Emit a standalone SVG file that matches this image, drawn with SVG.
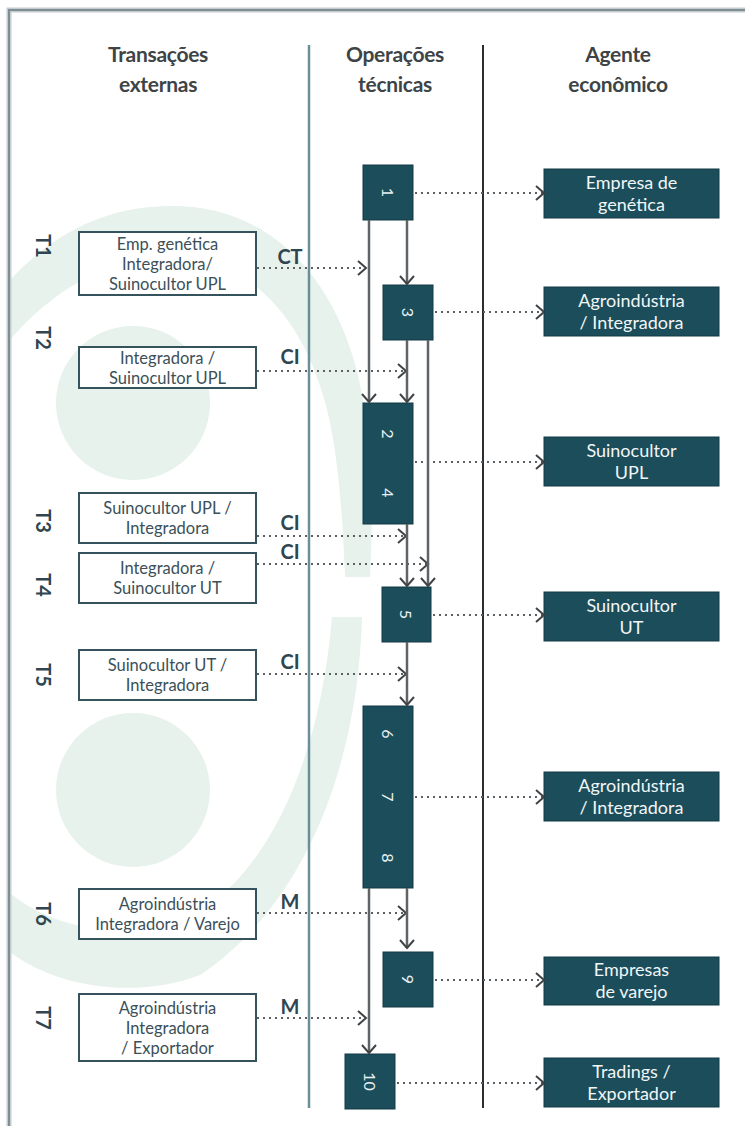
<svg xmlns="http://www.w3.org/2000/svg" width="745" height="1126" viewBox="0 0 745 1126">
<style>
.hdr{font-family:Lato,"Liberation Sans",sans-serif;font-weight:700;font-size:21px;fill:#3e4446;text-anchor:middle;letter-spacing:-0.3px}
.tl{font-family:Lato,"Liberation Sans",sans-serif;font-weight:700;font-size:20px;fill:#2f4650;text-anchor:middle;dominant-baseline:central}
.lbox{fill:#ffffff;stroke:#35535d;stroke-width:2}
.ltx{font-family:Lato,"Liberation Sans",sans-serif;font-size:16.5px;fill:#3c5058;text-anchor:middle;letter-spacing:0px}
.cbox{fill:#1b4d5b;stroke:#123a45;stroke-width:1}
.num{font-family:Lato,"Liberation Sans",sans-serif;font-size:16px;fill:#e8f0f2;text-anchor:middle;dominant-baseline:central}
.rbox{fill:#1b4d5b;stroke:#123a45;stroke-width:1}
.rtx{font-family:Lato,"Liberation Sans",sans-serif;font-size:18px;fill:#f2f6f7;text-anchor:middle}
.code{font-family:Lato,"Liberation Sans",sans-serif;font-weight:700;font-size:20px;fill:#2f4650;text-anchor:middle}
.dot{fill:none;stroke:#5b5f61;stroke-width:2;stroke-dasharray:2 4;marker-end:url(#chev)}
.solid{fill:none;stroke:#5f6365;stroke-width:2.5;marker-end:url(#chevs)}
.wm{fill:#e6f2eb}
</style>
<defs>
<marker id="chev" markerUnits="userSpaceOnUse" markerWidth="12" markerHeight="16" refX="9" refY="8" orient="auto">
<path d="M1,1 L9,8 L1,15" fill="none" stroke="#3f4345" stroke-width="2"/>
</marker>
<marker id="chevs" markerUnits="userSpaceOnUse" markerWidth="12" markerHeight="16" refX="9" refY="8" orient="auto">
<path d="M1,1 L9,8 L1,15" fill="none" stroke="#3f4345" stroke-width="2"/>
</marker>
</defs>
<rect width="745" height="1126" fill="#ffffff"/>
<g id="watermark">
<circle class="wm" cx="133" cy="403" r="77"/>
<circle class="wm" cx="133" cy="790" r="77"/>
<path class="wm" d="M10,280 C60,226 115,206 172,206 C285,206 352,300 366,420 C373,480 372,540 370,577 L345,577 C343,520 338,440 322,392 C296,305 238,256 170,256 C110,256 50,292 10,340 Z"/>
<path class="wm" d="M362,617 C358,765 305,905 200,975 C140,998 60,990 10,952 L10,893 C60,935 140,940 198,913 C270,868 320,760 332,617 Z"/>
</g>
<g id="frame">
<path d="M9,1126 L9,10 L745,10" fill="none" stroke="#c5ccd0" stroke-width="5"/>
<path d="M9,1126 L9,10 L745,10" fill="none" stroke="#7f8d94" stroke-width="2"/>
</g>
<g id="headers">
<text class="hdr" x="158" y="62">Transações</text>
<text class="hdr" x="158" y="92">externas</text>
<text class="hdr" x="395" y="62">Operações</text>
<text class="hdr" x="395" y="92">técnicas</text>
<text class="hdr" x="618" y="62">Agente</text>
<text class="hdr" x="618" y="92">econômico</text>
<line x1="309" y1="45" x2="309" y2="1108" stroke="#6b8f99" stroke-width="2.5"/>
<line x1="483" y1="45" x2="483" y2="1108" stroke="#2a2d30" stroke-width="2"/>
</g>
<g id="T1">
<text class="tl" transform="translate(44,246) rotate(90)">T1</text>
<rect class="lbox" x="79" y="232" width="177" height="63"/>
<text class="ltx" x="167.5" y="250">Emp. genética</text>
<text class="ltx" x="167.5" y="270">Integradora/</text>
<text class="ltx" x="167.5" y="290">Suinocultor  UPL</text>
</g>
<g id="T2">
<text class="tl" transform="translate(44,338) rotate(90)">T2</text>
<rect class="lbox" x="79" y="347" width="177" height="41"/>
<text class="ltx" x="167.5" y="364">Integradora /</text>
<text class="ltx" x="167.5" y="384">Suinocultor UPL</text>
</g>
<g id="T3">
<text class="tl" transform="translate(44,521) rotate(90)">T3</text>
<rect class="lbox" x="79" y="493" width="177" height="50"/>
<text class="ltx" x="167.5" y="514">Suinocultor UPL /</text>
<text class="ltx" x="167.5" y="534">Integradora</text>
</g>
<g id="T4">
<text class="tl" transform="translate(44,585) rotate(90)">T4</text>
<rect class="lbox" x="79" y="553" width="177" height="50"/>
<text class="ltx" x="167.5" y="574">Integradora /</text>
<text class="ltx" x="167.5" y="594">Suinocultor UT</text>
</g>
<g id="T5">
<text class="tl" transform="translate(44,675) rotate(90)">T5</text>
<rect class="lbox" x="79" y="650" width="177" height="50"/>
<text class="ltx" x="167.5" y="671">Suinocultor UT /</text>
<text class="ltx" x="167.5" y="691">Integradora</text>
</g>
<g id="T6">
<text class="tl" transform="translate(44,914) rotate(90)">T6</text>
<rect class="lbox" x="79" y="889" width="177" height="50"/>
<text class="ltx" x="167.5" y="910">Agroindústria</text>
<text class="ltx" x="167.5" y="930">Integradora / Varejo</text>
</g>
<g id="T7">
<text class="tl" transform="translate(44,1018) rotate(90)">T7</text>
<rect class="lbox" x="79" y="994" width="177" height="67"/>
<text class="ltx" x="167.5" y="1014">Agroindústria</text>
<text class="ltx" x="167.5" y="1034">Integradora</text>
<text class="ltx" x="167.5" y="1054">/ Exportador</text>
</g>
<g id="op1">
<rect class="cbox" x="363" y="165" width="50" height="55"/>
<text class="num" transform="translate(388,192.5) rotate(90)">1</text>
</g>
<g id="op3">
<rect class="cbox" x="383" y="285" width="50" height="55"/>
<text class="num" transform="translate(408,312.5) rotate(90)">3</text>
</g>
<g id="op24">
<rect class="cbox" x="363" y="403" width="50" height="121"/>
<text class="num" transform="translate(388,434) rotate(90)">2</text>
<text class="num" transform="translate(388,493) rotate(90)">4</text>
</g>
<g id="op5">
<rect class="cbox" x="382" y="587" width="49" height="55"/>
<text class="num" transform="translate(406.5,614.5) rotate(90)">5</text>
</g>
<g id="op678">
<rect class="cbox" x="363" y="706" width="50" height="182"/>
<text class="num" transform="translate(388,734) rotate(90)">6</text>
<text class="num" transform="translate(388,797) rotate(90)">7</text>
<text class="num" transform="translate(388,858) rotate(90)">8</text>
</g>
<g id="op9">
<rect class="cbox" x="383" y="952" width="50" height="55"/>
<text class="num" transform="translate(408,979.5) rotate(90)">9</text>
</g>
<g id="op10">
<rect class="cbox" x="345" y="1054" width="50" height="55"/>
<text class="num" transform="translate(370,1081.5) rotate(90)">10</text>
</g>
<g id="ag1">
<rect class="rbox" x="544" y="169" width="175" height="49"/>
<text class="rtx" x="631.5" y="189">Empresa de</text>
<text class="rtx" x="631.5" y="211">genética</text>
</g>
<g id="ag2">
<rect class="rbox" x="544" y="287" width="175" height="49"/>
<text class="rtx" x="631.5" y="307">Agroindústria</text>
<text class="rtx" x="631.5" y="329">/ Integradora</text>
</g>
<g id="ag3">
<rect class="rbox" x="544" y="437" width="175" height="49"/>
<text class="rtx" x="631.5" y="457">Suinocultor</text>
<text class="rtx" x="631.5" y="479">UPL</text>
</g>
<g id="ag4">
<rect class="rbox" x="544" y="592" width="175" height="49"/>
<text class="rtx" x="631.5" y="612">Suinocultor</text>
<text class="rtx" x="631.5" y="634">UT</text>
</g>
<g id="ag5">
<rect class="rbox" x="544" y="772" width="175" height="49"/>
<text class="rtx" x="631.5" y="792">Agroindústria</text>
<text class="rtx" x="631.5" y="814">/ Integradora</text>
</g>
<g id="ag6">
<rect class="rbox" x="544" y="957" width="175" height="48"/>
<text class="rtx" x="631.5" y="976">Empresas</text>
<text class="rtx" x="631.5" y="998">de varejo</text>
</g>
<g id="ag7">
<rect class="rbox" x="544" y="1058" width="175" height="49"/>
<text class="rtx" x="631.5" y="1078">Tradings /</text>
<text class="rtx" x="631.5" y="1100">Exportador</text>
</g>
<g id="connectors">
<text class="code" x="290" y="264">CT</text>
<text class="code" x="290" y="364">CI</text>
<text class="code" x="290" y="530">CI</text>
<text class="code" x="290" y="559">CI</text>
<text class="code" x="290" y="669">CI</text>
<text class="code" x="290" y="909">M</text>
<text class="code" x="290" y="1014">M</text>
<path class="dot" d="M257,268 H366"/>
<path class="dot" d="M257,371 H406"/>
<path class="dot" d="M257,536 H406"/>
<path class="dot" d="M257,564 H428"/>
<path class="dot" d="M257,674 H406"/>
<path class="dot" d="M257,913 H406"/>
<path class="dot" d="M257,1018 H366"/>
<path class="dot" d="M415,193 H544"/>
<path class="dot" d="M435,312 H544"/>
<path class="dot" d="M415,462 H544"/>
<path class="dot" d="M433,615 H544"/>
<path class="dot" d="M415,797 H544"/>
<path class="dot" d="M435,980 H544"/>
<path class="dot" d="M397,1083 H544"/>
<path class="solid" d="M369,220 V402"/>
<path class="solid" d="M407,220 V284"/>
<path class="solid" d="M407,340 V402"/>
<path class="solid" d="M428,340 V586"/>
<path class="solid" d="M407,524 V586"/>
<path class="solid" d="M407,642 V705"/>
<path class="solid" d="M407,888 V948"/>
<path class="solid" d="M369,888 V1053"/>
</g>
</svg>
